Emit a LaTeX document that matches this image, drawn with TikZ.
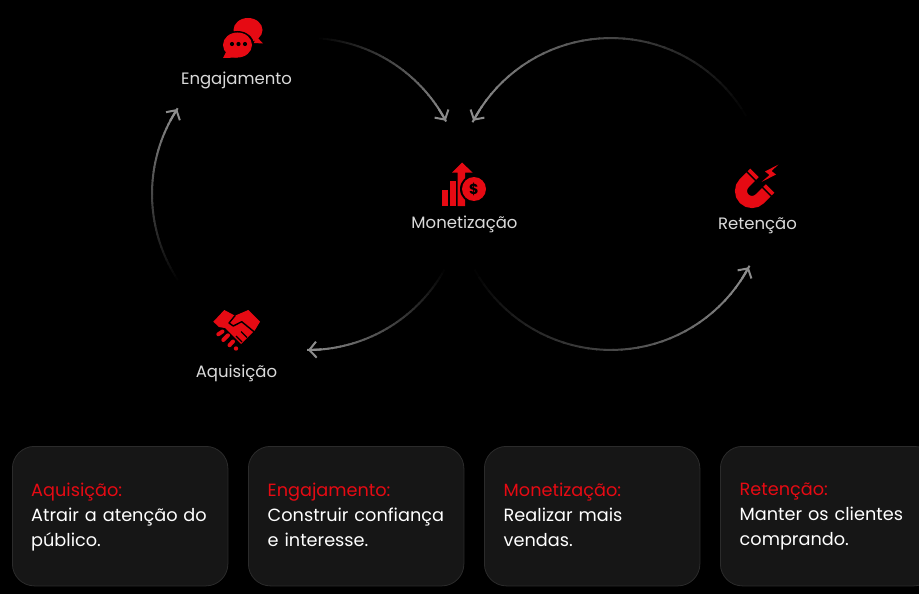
\documentclass[tikz,border=0pt]{standalone}
\usepackage{fontspec}
\setmainfont{Poppins}
\usetikzlibrary{arrows.meta,calc}
\definecolor{brand}{HTML}{E60A13}
\definecolor{arcend}{HTML}{8C8C8C}
\definecolor{cardfill}{HTML}{161616}
\definecolor{cardline}{HTML}{2B2B2B}
\definecolor{labelc}{HTML}{DADADA}
\tikzset{
  arcline/.style={line width=2pt},
  icon/.style={fill=brand,draw=none},
  cut/.style={draw=black,line width=1pt},
  steplabel/.style={text=labelc,font=\fontsize{16.5}{18}\selectfont,anchor=center,inner sep=0pt},
  card/.style={draw=cardline,fill=cardfill,line width=0.8pt,rounded corners=22pt,minimum width=215.5pt,minimum height=139.5pt,anchor=north west,inner sep=0pt},
  cardtext/.style={text=white,anchor=north west,inner sep=0pt,text width=195pt,align=left,font=\fontsize{17.7}{25}\selectfont},
}
\newcommand{\fadearc}[6]{%
  \foreach \i in {1,...,40}{%
    \pgfmathsetmacro\aa{#3+(#4-#3)*(\i-1)/40}%
    \pgfmathsetmacro\bb{#3+(#4-#3)*(\i+0.2)/40}%
    \pgfmathtruncatemacro\pp{\i*2.5}%
    \draw[arcline,draw=arcend!\pp!black] ($(#1,#2)+(\aa:156)$) -- ($(#1,#2)+(\bb:156)$);
  }%
  \coordinate (#5) at ($(#1,#2)+(#4+#6:156)$);
  \coordinate (#5tip) at ($(#1,#2)+(#4:156)$);
  \draw[arcline,draw=arcend,-{Straight Barb[length=7pt,width=16pt]}] (#5) -- (#5tip);
}
\begin{document}
\begin{tikzpicture}[x=1pt,y=-1pt]
\useasboundingbox (0,0) rectangle (919,594);
\clip (0,0) rectangle (919,594);
\fill[black] (0,0) rectangle (919,594);

% connectors
\fadearc{308}{194}{-86}{-28}{engmon}{-5}
\fadearc{611}{194}{-30}{-152}{retmon}{5}
\fadearc{611}{194}{151}{28}{monret}{5}
\fadearc{308}{194}{29}{90}{monaq}{-5}
\fadearc{308}{194}{146.5}{213}{aqeng}{-5}

% labels
\node[steplabel] (lEng) at (236.5,80.5) {Engajamento};
\node[steplabel] (lMon) at (464.5,224) {Monetização};
\node[steplabel] (lRet) at (757.5,226) {Retenção};
\node[steplabel] (lAq) at (236.5,373.5) {Aquisição};

% chat icon
\fill[icon] (248,30) ellipse [x radius=14.5,y radius=12];
\fill[icon] (256,36) -- (263,43.5) -- (254,43) -- cycle;
\fill[black] (237.5,45) ellipse [x radius=16.5,y radius=14];
\fill[icon] (237.5,45) ellipse [x radius=14.5,y radius=12.5];
\fill[icon] (227,50) -- (223,58) -- (238,57.5) -- cycle;
\fill[black] (232,44) circle (2.1) (238.5,44) circle (2.1) (245,44) circle (2.1);

% money icon
\fill[icon] (442,190) rectangle (448,206);
\fill[icon] (450,181) rectangle (455.5,206);
\fill[icon] (462,162.5) -- (472.5,172.5) -- (465,172.5) -- (465,206) -- (457.5,206) -- (457.5,172.5) -- (452,172.5) -- cycle;
\fill[black] (474,189) circle (14);
\fill[icon] (474,189) circle (12);
\node[inner sep=0pt,text=black,font=\fontsize{14.5}{14.5}\bfseries\selectfont] (dollar) at (474,189) {\$};

% magnet icon
\draw[brand,line width=12pt] (754.5,172.9) -- (744.2,183.2)
  .. controls (739.9,187.5) and (739.9,194.5) .. (744.2,198.8)
  .. controls (748.5,203.1) and (755.5,203.1) .. (759.8,198.8)
  -- (770.1,188.5);
\draw[black,line width=1.4pt] (746.4,171.2) -- (756.2,181);
\draw[black,line width=1.4pt] (762,186.8) -- (771.8,196.6);
\fill[brand] (778.5,164.5) -- (765,171.5) -- (769.5,175) -- (761.5,182) -- (776,174.5) -- (771.5,171) -- cycle;

% handshake icon
\fill[icon] (213.3,321.7) -- (224.3,310) -- (235,315.7) -- (248.3,310) -- (260,321.7) -- (255,330) -- (241,344) -- (225,328) -- (219,327) -- cycle;
\draw[cut,line width=1.4pt,line cap=round,line join=round] (235,315.7) -- (229,323) -- (233.3,326) -- (241.7,321.7) -- (254,331.7);
\draw[cut,line width=1.1pt] (247,337.5) -- (241,331.5) (242,342) -- (236,336);
\draw[brand,line width=4pt,line cap=round] (218.3,334.3) -- (222.5,331.5);
\draw[brand,line width=4pt,line cap=round] (223.3,340) -- (228,335.3);
\draw[brand,line width=4pt,line cap=round] (229.5,345.2) -- (233,341.5);
\fill[icon] (236,348.5) circle (2.2);

% cards
\node[card] (c1) at (12,446) {};
\node[card] (c2) at (248,446) {};
\node[card] (c3) at (484,446) {};
\node[card] (c4) at (720,446) {};
\node[cardtext] (t1) at (31,482.5) {\textcolor{brand}{Aquisição:}\\Atrair a atenção do\\público.};
\node[cardtext] (t2) at (267.5,482.5) {\textcolor{brand}{Engajamento:}\\Construir confiança\\e interesse.};
\node[cardtext] (t3) at (503.5,482.5) {\textcolor{brand}{Monetização:}\\Realizar mais\\vendas.};
\node[cardtext] (t4) at (739.5,482.5) {\textcolor{brand}{Retenção:}\\Manter os clientes\\comprando.};
\end{tikzpicture}
\end{document}
